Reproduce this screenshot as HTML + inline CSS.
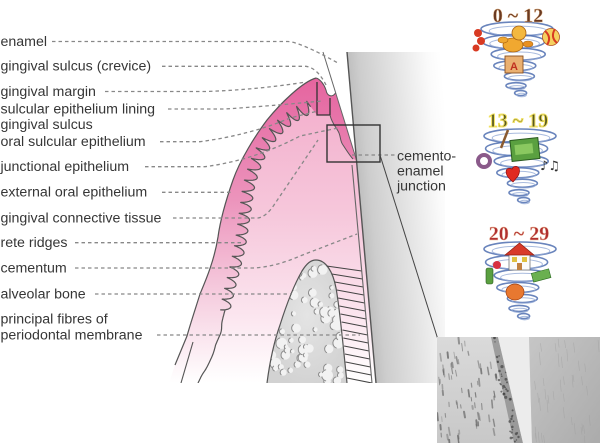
<!DOCTYPE html>
<html><head><meta charset="utf-8">
<style>
html,body{margin:0;padding:0;background:#fff;}
body{width:600px;height:443px;overflow:hidden;position:relative;}
svg{position:absolute;left:0;top:0;}
.lb{font-family:"Liberation Sans",Arial,sans-serif;font-size:14.2px;fill:#363636;}
.age{font-family:"Liberation Serif",serif;font-size:20px;font-weight:bold;}
</style></head><body>
<svg id="s" width="600" height="443" viewBox="0 0 600 443" xmlns="http://www.w3.org/2000/svg">
<defs>
 <linearGradient id="tooth" x1="347" y1="52" x2="440" y2="44" gradientUnits="userSpaceOnUse">
  <stop offset="0" stop-color="#bfbfbf"/>
  <stop offset="0.12" stop-color="#cdcdcd"/>
  <stop offset="0.5" stop-color="#e4e4e4"/>
  <stop offset="0.85" stop-color="#fafafa"/>
  <stop offset="1" stop-color="#ffffff"/>
 </linearGradient>
 <linearGradient id="gDark" x1="0" y1="78" x2="0" y2="383" gradientUnits="userSpaceOnUse">
  <stop offset="0" stop-color="#e5649f"/>
  <stop offset="0.4" stop-color="#ec94bc"/>
  <stop offset="0.72" stop-color="#f6cfe0"/>
  <stop offset="1" stop-color="#ffffff"/>
 </linearGradient>
 <linearGradient id="gLight" x1="0" y1="100" x2="0" y2="383" gradientUnits="userSpaceOnUse">
  <stop offset="0" stop-color="#f3b0cd"/>
  <stop offset="0.4" stop-color="#f6c7db"/>
  <stop offset="0.75" stop-color="#fbe4ee"/>
  <stop offset="1" stop-color="#ffffff"/>
 </linearGradient>
 <radialGradient id="boneG" cx="0.5" cy="0.45" r="0.6">
  <stop offset="0" stop-color="#e4e4e4"/>
  <stop offset="1" stop-color="#d2d2d2"/>
 </radialGradient>
 <linearGradient id="phL" x1="0" y1="0" x2="0" y2="1">
  <stop offset="0" stop-color="#dadada"/>
  <stop offset="1" stop-color="#c8c8c8"/>
 </linearGradient>
 <linearGradient id="phR" x1="0" y1="0" x2="1" y2="1">
  <stop offset="0" stop-color="#c6c6c6"/>
  <stop offset="1" stop-color="#ababab"/>
 </linearGradient>
 <clipPath id="cut"><rect x="0" y="0" width="600" height="383"/></clipPath>
 <clipPath id="ph"><rect x="437" y="337" width="163" height="106"/></clipPath>
 <clipPath id="boneClip"><path d="M267,383 C270,360 274,342 280,325 C286,306 294,285 302,271 C307,263 311,260 316,260 C326,260 333,272 336,288 C340,310 343,345 347,383 Z"/></clipPath>
</defs>

<g clip-path="url(#cut)" id="main">
 <polygon points="347,52 445,52 445,383 376,383" fill="url(#tooth)"/>
 <path id="ging" d="M316,78 C302,82 280,104 267,120 C255,136 240,160 233,180 C226,200 220,222 218,237 C214,262 205,282 200,294 C195,310 190,325 187,336 L175,365 L169,383 L376,383 L356.5,160 L335.5,93 C332,98 327,96 326,90 C324,84 320,79 316,78 Z" fill="url(#gDark)"/>
 <path id="conn" d="" fill="url(#gLight)"/>
 <path id="rete" d="" fill="none" stroke="#555" stroke-width="1.2" stroke-linejoin="round"/>
 <path d="M316,78 C302,82 280,104 267,120 C255,136 240,160 233,180 C226,200 220,222 218,237 C214,262 205,282 200,294 C195,310 190,325 187,336 L175,365" fill="none" stroke="#555" stroke-width="1.2"/>
 <path d="M193,342 L181,383" fill="none" stroke="#555" stroke-width="1.1"/>
 <path d="M316,78 C320,79 324,84 326,90 C327,96 332,98 335.5,93" fill="none" stroke="#555" stroke-width="1"/>
 <path d="M323,52 L356.5,160" fill="none" stroke="#666" stroke-width="1"/>
 <path d="M317,82 V115 H330 M330,98 V115" fill="none" stroke="#333" stroke-width="1.3"/>
 <path d="M330,115 C332,124 337,128 339,133 C341,138 340,141 343,145 C347,151 350,156 353,159" fill="none" stroke="#555" stroke-width="1"/>
 <path id="bone" d="M267,383 C270,360 274,342 280,325 C286,306 294,285 302,271 C307,263 311,260 316,260 C326,260 333,272 336,288 C340,310 343,345 347,383 Z" fill="url(#boneG)"/>
 <g id="bubbles" clip-path="url(#boneClip)"></g>
 <path d="M267,383 C270,360 274,342 280,325 C286,306 294,285 302,271 C307,263 311,260 316,260 C326,260 333,272 336,288 C340,310 343,345 347,383" fill="none" stroke="#555" stroke-width="1.2"/>
 <g id="fibres" stroke="#444" stroke-width="1.1"></g>
 <path d="M347,52 L376,383" stroke="#555" stroke-width="1.4" fill="none"/>
 <path d="M352,165 L372,383" stroke="#666" stroke-width="1.1" fill="none"/>
</g>

<g fill="none" stroke="#888" stroke-width="1.3" stroke-dasharray="3.5 3">
 <path d="M52,41.5 H288 Q300,42 338,63"/>
 <path d="M162,66.3 H306 Q318,68 327,87"/>
 <path d="M105,91.5 H205 Q255,90 306,82"/>
 <path d="M168,109 H225 Q270,106 322,101"/>
 <path d="M160,141.7 H200 Q250,135 290,118 L318,111"/>
 <path d="M145,166.7 H205 Q255,160 300,136 L338,128"/>
 <path d="M162,192.3 H232"/>
 <path d="M173,218 H258 Q266,217 274,205 L318,140"/>
 <path d="M75,242.7 H242"/>
 <path d="M75,268 H253 Q275,267 300,256 L357,234"/>
 <path d="M95,294 H292"/>
 <path d="M157,335 H360"/>
 <path d="M352,155 H395"/>
</g>

<rect x="327" y="125" width="53" height="37" fill="none" stroke="#333" stroke-width="1.4"/>
<path d="M380,155 L437.5,338" stroke="#444" stroke-width="1" fill="none"/>

<g class="lb">
 <text x="0.5" y="46">enamel</text>
 <text x="0.5" y="70.7">gingival sulcus (crevice)</text>
 <text x="0.5" y="96">gingival margin</text>
 <text x="0.5" y="113.5">sulcular epithelium lining</text>
 <text x="0.5" y="129">gingival sulcus</text>
 <text x="0.5" y="146">oral sulcular epithelium</text>
 <text x="0.5" y="171">junctional epithelium</text>
 <text x="0.5" y="196.7">external oral epithelium</text>
 <text x="0.5" y="222.3">gingival connective tissue</text>
 <text x="0.5" y="247">rete ridges</text>
 <text x="0.5" y="272.3">cementum</text>
 <text x="0.5" y="298.3">alveolar bone</text>
 <text x="0.5" y="323.3">principal fibres of</text>
 <text x="0.5" y="339.5">periodontal membrane</text>
 <text x="397" y="160.5">cemento-</text>
 <text x="397" y="175.5">enamel</text>
 <text x="397" y="190.5">junction</text>
</g>

<g id="tornados" fill="none" stroke-linecap="round"></g>
<text class="age" x="518" y="22" text-anchor="middle" fill="#6a3a22" stroke="#e0b080" stroke-width="0.4">0 ~ 12</text>
<g>
 <circle cx="478" cy="33" r="4" fill="#d83a22"/><circle cx="481" cy="41" r="4" fill="#d83a22"/><circle cx="476" cy="48" r="3.5" fill="#d83a22"/>
 <ellipse cx="513" cy="45" rx="10" ry="7" fill="#f0a830" stroke="#a86010" stroke-width="0.8"/>
 <circle cx="519" cy="33" r="7" fill="#f3b840" stroke="#a86010" stroke-width="0.8"/>
 <ellipse cx="503" cy="40" rx="5" ry="3" fill="#f0a830" stroke="#a86010" stroke-width="0.6"/>
 <ellipse cx="528" cy="44" rx="5" ry="3" fill="#e89020" stroke="#a86010" stroke-width="0.6"/>
 <circle cx="551" cy="37" r="8.5" fill="#f5d060" stroke="#b05020" stroke-width="0.8"/>
 <path d="M545,31 Q552,37 547,45 M555,29 Q550,37 557,43" stroke="#d83a22" stroke-width="2" fill="none"/>
 <rect x="505" y="56" width="18" height="17" fill="#eab070" stroke="#8a5020" stroke-width="0.9"/>
 <text x="514" y="70" text-anchor="middle" font-family="Liberation Sans,sans-serif" font-size="11" font-weight="bold" fill="#c03020">A</text>
</g>
<text class="age" x="518" y="127" text-anchor="middle" fill="#5a5a20" stroke="#f0e060" stroke-width="1">13 ~ 19</text>
<g>
 <path d="M501,148 L508,130" stroke="#8a5a30" stroke-width="2.5"/>
 <rect x="511" y="139" width="28" height="21" fill="#5aa040" stroke="#2a5a20" stroke-width="1" transform="rotate(-6 525 150)"/>
 <rect x="515" y="144" width="18" height="10" fill="#8ac860" transform="rotate(-6 525 150)"/>
 <circle cx="484" cy="161" r="6" fill="none" stroke="#8a5a8a" stroke-width="4"/>
 <path d="M513,182 C503,174 505,166 512,169 C514,164 523,166 518,176 Z" fill="#e02a20" stroke="#901010" stroke-width="0.7"/>
 <text x="540" y="170" font-family="DejaVu Sans,sans-serif" font-size="13" fill="#333">♪♫</text>
</g>
<text class="age" x="519" y="240" text-anchor="middle" fill="#b03030" stroke="#f0c0a0" stroke-width="0.4">20 ~ 29</text>
<g>
 <rect x="509" y="253" width="21" height="17" fill="#fafafa" stroke="#777" stroke-width="0.8"/>
 <polygon points="505,255 519.5,243 534,255" fill="#d83a2a" stroke="#902010" stroke-width="0.7"/>
 <rect x="512" y="257" width="5" height="5" fill="#e0c040"/><rect x="522" y="257" width="5" height="5" fill="#e0c040"/>
 <rect x="517" y="263" width="5" height="7" fill="#c08040"/>
 <rect x="486" y="268" width="7" height="16" rx="2" fill="#5aa040" stroke="#2a5a20" stroke-width="0.6"/>
 <circle cx="497" cy="265" r="4" fill="#d83040"/>
 <rect x="532" y="271" width="18" height="9" fill="#6ab050" stroke="#2a6a20" stroke-width="0.6" transform="rotate(-15 541 275)"/>
 <ellipse cx="515" cy="292" rx="9" ry="8" fill="#e87830" stroke="#a04010" stroke-width="0.7"/>
</g>

<g clip-path="url(#ph)">
 <rect x="437" y="337" width="163" height="106" fill="url(#phL)"/>
 <g id="streaks" stroke="#555" stroke-linecap="round"></g>
 <polygon points="491,337 498,337 523,443 514,443" fill="#8a8a8a" opacity="0.75"/>
 <g id="dots" fill="#333"></g>
 <polygon points="498,337 529,337 532,443 523,443" fill="#ececec"/>
 <polygon points="529,337 600,337 600,443 532,443" fill="url(#phR)"/>
 <g id="tex" stroke="#999" stroke-width="0.6"></g>
</g>
</svg>
<script>
(function(){
const NS="http://www.w3.org/2000/svg";
function el(tag,attrs,parent){const e=document.createElementNS(NS,tag);for(const k in attrs)e.setAttribute(k,attrs[k]);parent.appendChild(e);return e;}
let seed=12345;function rnd(){seed=(seed*16807)%2147483647;return (seed-1)/2147483646;}
function catmull(pts,n){
 const out=[];
 for(let i=0;i<pts.length-1;i++){
  const p0=pts[Math.max(i-1,0)],p1=pts[i],p2=pts[i+1],p3=pts[Math.min(i+2,pts.length-1)];
  for(let k=0;k<n;k++){const t=k/n,t2=t*t,t3=t2*t;
   const f=(a,b,c,d)=>0.5*((2*b)+(-a+c)*t+(2*a-5*b+4*c-d)*t2+(-a+3*b-3*c+d)*t3);
   out.push([f(p0[0],p1[0],p2[0],p3[0]),f(p0[1],p1[1],p2[1],p3[1])]);}
 }
 out.push(pts[pts.length-1]);return out;
}
function wavy(pts,ampF,wl,alongA){
 const c=catmull(pts,80);const out=[];let s=0;let total=0;
 for(let i=1;i<c.length;i++)total+=Math.hypot(c[i][0]-c[i-1][0],c[i][1]-c[i-1][1]);
 for(let i=0;i<c.length;i++){
  if(i>0)s+=Math.hypot(c[i][0]-c[i-1][0],c[i][1]-c[i-1][1]);
  const a=c[Math.max(i-4,0)],b=c[Math.min(i+4,c.length-1)];
  const dx=b[0]-a[0],dy=b[1]-a[1],L=Math.hypot(dx,dy)||1;
  const nx=-dy/L,ny=dx/L;
  const ph=2*Math.PI*s/wl;
  const off=ampF(s/total)*Math.sin(ph);
  const along=alongA*Math.cos(ph);
  out.push([c[i][0]+nx*off+dx/L*along,c[i][1]+ny*off+dy/L*along]);
 }
 return out;
}
const center=[[312,106],[298,113],[285,122],[273,134],[263,148],[255,166],[249,186],[246,206],[243,226],[240,246],[235,268],[229,292],[225,310]];
const w=wavy(center,f=>6.5-1.5*f,11,1.5);
const tail=catmull([[225,310],[222,322],[221,332],[216,344],[213,354],[207,367],[202,375],[198,383]],8);
const all=w.concat(tail);
const d="M"+all.map(p=>p[0].toFixed(1)+","+p[1].toFixed(1)).join("L");
document.getElementById("rete").setAttribute("d",d);
document.getElementById("conn").setAttribute("d",d+" L376,383 L356.5,160 L353,159 C350,156 347,151 343,145 C340,141 341,138 339,133 C337,128 332,124 330,115 L317,115 Z");
const br=[[260,316],[266,326],[275,332],[288,336],[320,341],[350,344],[383,347]];
function boneR(y){for(let i=0;i<br.length-1;i++){if(y>=br[i][0]&&y<=br[i+1][0]){const t=(y-br[i][0])/(br[i+1][0]-br[i][0]);return br[i][1]+t*(br[i+1][1]-br[i][1]);}}return 347;}
const fg=document.getElementById("fibres");
for(let y=266;y<=380;y+=8){const xl=boneR(y)+0.5,yr=y+5,xr=352+(yr-165)*20/218;el("line",{x1:xl.toFixed(1),y1:y,x2:xr.toFixed(1),y2:yr},fg);}
const bone=document.getElementById("bone");const bg=document.getElementById("bubbles");
let n=0;
for(let i=0;i<400&&n<60;i++){
 const x=268+rnd()*78,y=264+rnd()*119;
 let inside=true;
 try{inside=bone.isPointInFill(new DOMPoint(x,y));}catch(e){inside=true;}
 if(!inside)continue;
 n++;
 const r=2+rnd()*3.8;
 el("circle",{cx:x.toFixed(1),cy:y.toFixed(1),r:r.toFixed(1),fill:"#f2f2f2"},bg);
 const a1=(100+rnd()*30)*Math.PI/180,a2=(230+rnd()*40)*Math.PI/180;
 const x1=x+r*Math.cos(a1),y1=y+r*Math.sin(a1),x2=x+r*Math.cos(a2),y2=y+r*Math.sin(a2);
 el("path",{d:"M"+x1.toFixed(1)+","+y1.toFixed(1)+" A"+r.toFixed(1)+","+r.toFixed(1)+" 0 0 1 "+x2.toFixed(1)+","+y2.toFixed(1),fill:"none",stroke:"#8c8c8c","stroke-width":"1"},bg);
}
const tg=document.getElementById("tornados");
function tornado(cx,top,scale){
 const rows=[[0,36,7],[12,31,7],[24,27,6],[35,21,5],[45,15,4],[54,10,3],[61,6,2.5]];
 rows.forEach((r,i)=>{
  const x=cx+(i%2?-2:2)+i*0.6,y=top+r[0]*scale;
  el("ellipse",{cx:x,cy:y,rx:r[1],ry:r[2],stroke:"#4f6fb0","stroke-width":"1.6",opacity:"0.85"},tg);
  el("ellipse",{cx:x+1,cy:y+2,rx:r[1]*0.8,ry:r[2]*0.7,stroke:"#93aad6","stroke-width":"1",opacity:"0.8"},tg);
 });
}
tornado(515,29,1.05);tornado(518,136,1.05);tornado(518,249,1.1);
const sg=document.getElementById("streaks");
for(let i=0;i<70;i++){
 const x=437+rnd()*60,y=337+rnd()*106;
 const lim=489+(y-337)*22/106; if(x>lim)continue;
 const len=3+rnd()*5,ang=(68+rnd()*15)*Math.PI/180;
 el("line",{x1:x.toFixed(1),y1:y.toFixed(1),x2:(x+Math.cos(ang)*len*0.5).toFixed(1),y2:(y+Math.sin(ang)*len).toFixed(1),"stroke-width":(0.8+rnd()*1.2).toFixed(1),opacity:(0.3+rnd()*0.4).toFixed(2)},sg);
}
const dg=document.getElementById("dots");
for(let i=0;i<45;i++){
 const y=337+rnd()*106;const x0=490+(y-337)*22/106;const x=x0+rnd()*9;
 el("circle",{cx:x.toFixed(1),cy:y.toFixed(1),r:(0.6+rnd()*1).toFixed(1),opacity:"0.6"},dg);
}
const xg=document.getElementById("tex");
for(let i=0;i<40;i++){
 const x=532+rnd()*68,y=337+rnd()*100;
 el("line",{x1:x.toFixed(1),y1:y.toFixed(1),x2:(x+1).toFixed(1),y2:(y+6+rnd()*8).toFixed(1),opacity:"0.5"},xg);
}
})();
</script>
</body></html>
